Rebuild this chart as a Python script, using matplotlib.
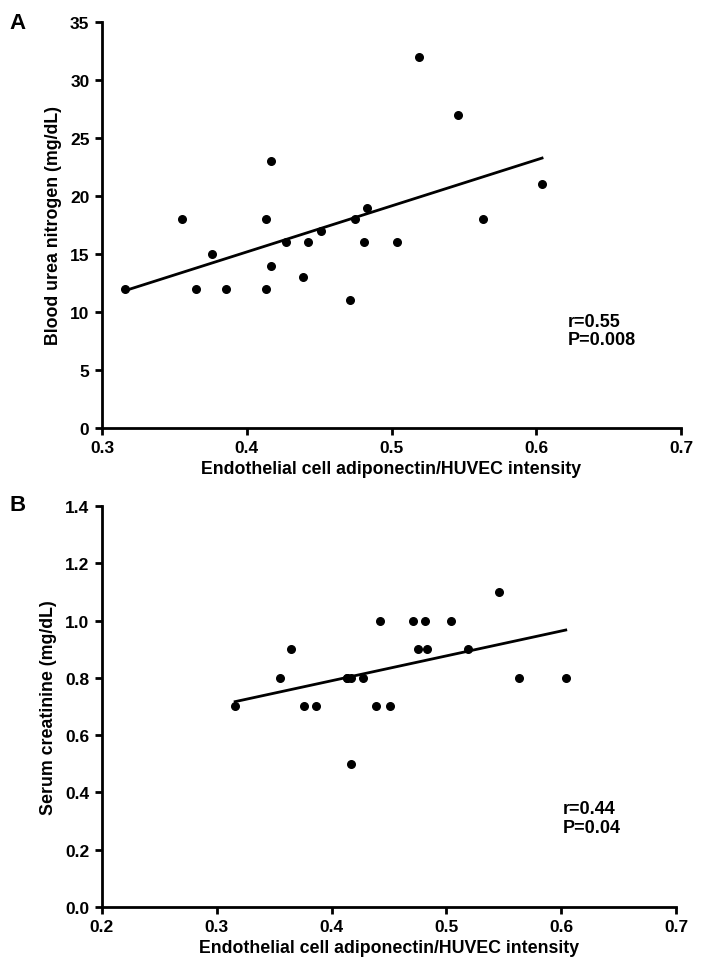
import matplotlib.pyplot as plt
import numpy as np

# intensidade de adiponectina (eixo x, mesmo para os dois painéis)
intensity = [0.316, 0.355, 0.365, 0.376, 0.386, 0.413, 0.413, 0.417, 0.417, 0.427, 0.439,
             0.442, 0.451, 0.471, 0.475, 0.481, 0.483, 0.504, 0.519, 0.546, 0.563, 0.604]
bun = [12, 18, 12, 15, 12, 12, 18, 23, 14, 16, 13,
       16, 17, 11, 18, 16, 19, 16, 32, 27, 18, 21]
creatinine = [0.7, 0.8, 0.9, 0.7, 0.7, 0.8, 0.8, 0.8, 0.5, 0.8, 0.7,
              1.0, 0.7, 1.0, 0.9, 1.0, 0.9, 1.0, 0.9, 1.1, 0.8, 0.8]

plt.rcParams['font.family'] = ['Liberation Sans', 'DejaVu Sans']
plt.rcParams['font.weight'] = 'bold'

fig = plt.figure(figsize=(7.01, 9.78), dpi=100)
axA = fig.add_axes([0.1455, 0.5614, 0.826, 0.4151])
axB = fig.add_axes([0.1455, 0.0716, 0.8188, 0.4100])


def painel(ax, x, y, xlim, xticks, ylim, yticks, yfmt, ylabel, stats, pos):
    x = np.array(x)
    y = np.array(y)
    ax.scatter(x, y, s=30, color='black', zorder=3)
    a, b = np.polyfit(x, y, 1)
    xs = np.array([x.min(), x.max()])
    ax.plot(xs, a * xs + b, color='black', lw=2)
    ax.set_xlim(*xlim)
    ax.set_ylim(*ylim)
    ax.set_xticks(xticks)
    ax.set_xticklabels(['%.1f' % t for t in xticks])
    ax.set_yticks(yticks)
    ax.set_yticklabels([yfmt % t for t in yticks])
    for s in ['top', 'right']:
        ax.spines[s].set_visible(False)
    for s in ['left', 'bottom']:
        ax.spines[s].set_linewidth(2)
    ax.tick_params(width=2, length=5, labelsize=12.5, pad=4)
    ax.set_xlabel('Endothelial cell adiponectin/HUVEC intensity', fontsize=12.8,
                  fontweight='bold', labelpad=3)
    ax.set_ylabel(ylabel, fontsize=12.8, fontweight='bold', labelpad=6)
    ax.text(pos[0], pos[1], stats, transform=ax.transAxes, fontsize=13,
            fontweight='bold', va='top', linespacing=1.1)


painel(axA, intensity, bun, (0.3, 0.7), np.arange(0.3, 0.71, 0.1),
       (0, 35), np.arange(0, 36, 5), '%d', 'Blood urea nitrogen (mg/dL)',
       'r=0.55\nP=0.008', (0.805, 0.283))
painel(axB, intensity, creatinine, (0.2, 0.7), np.arange(0.2, 0.71, 0.1),
       (0, 1.4), np.arange(0, 1.41, 0.2), '%.1f', 'Serum creatinine (mg/dL)',
       'r=0.44\nP=0.04', (0.803, 0.266))

fig.text(0.013, 0.987, 'A', fontsize=16, fontweight='bold', va='top')
fig.text(0.013, 0.494, 'B', fontsize=16, fontweight='bold', va='top')

fig.savefig('out.png', dpi=100)
